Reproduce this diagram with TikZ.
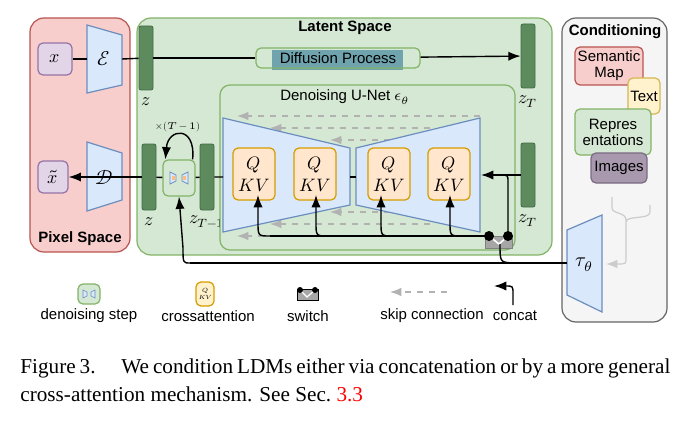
\documentclass[tikz,border=0pt]{standalone}
\usepackage{fontspec}
\setmainfont{Liberation Sans}
\newfontfamily\capfont{Liberation Serif}
\usepackage{unicode-math}
\setmathfont{Latin Modern Math}
\usetikzlibrary{arrows.meta,calc,positioning}
\definecolor{redfill}{HTML}{F8CECC}\definecolor{redline}{HTML}{B85450}
\definecolor{grnfill}{HTML}{D5E8D4}\definecolor{grnline}{HTML}{82B366}
\definecolor{bluefill}{HTML}{DAE8FC}\definecolor{blueline}{HTML}{6C8EBF}
\definecolor{orfill}{HTML}{FFE6CC}\definecolor{orline}{HTML}{D79B00}
\definecolor{purfill}{HTML}{E1D5E7}\definecolor{purline}{HTML}{9673A6}
\definecolor{yelfill}{HTML}{FFF2CC}\definecolor{yelline}{HTML}{D6B656}
\definecolor{barfill}{HTML}{5E8B5E}\definecolor{barline}{HTML}{3F6B45}
\definecolor{imgfill}{HTML}{A899AE}\definecolor{imgline}{HTML}{7A6A82}
\definecolor{gryfill}{HTML}{F5F5F5}\definecolor{gryline}{HTML}{666666}
\definecolor{teal}{HTML}{6FA3AD}
\tikzset{every picture/.style={>=Latex}}

\begin{document}
\begin{tikzpicture}[x=0.5pt,y=-0.5pt,
    font=\fontsize{7.5}{8}\selectfont,
    panel/.style={draw=#1line,fill=#1fill,rounded corners=7pt,line width=0.6pt},
    box/.style={draw=#1line,fill=#1fill,rounded corners=2.5pt,line width=0.6pt,
      inner sep=0pt,align=center},
    bar/.style={draw=barline,fill=barfill,rounded corners=1pt,minimum width=7pt,
      minimum height=#1,inner sep=0pt},
    trap/.style={draw=blueline,fill=bluefill,line width=0.6pt},
    skip/.style={->,gray!60,dashed,line width=0.6pt},
    conn/.style={line width=0.7pt},
    mlab/.style={font=\fontsize{9}{9}\selectfont}]
  \useasboundingbox (0,0) rectangle (700,433);

  % Panels.
  \draw[panel=red] (30,18) rectangle (130,252);
  \draw[panel=grn] (137,18) rectangle (552,255);
  \draw[panel=gry] (562,18) rectangle (667,322);
  \node[font=\bfseries\fontsize{7.5}{8}\selectfont] at (80,239) {Pixel Space};
  \node[font=\bfseries\fontsize{7.5}{8}\selectfont] at (345,28) {Latent Space};
  \node[font=\bfseries\fontsize{7.5}{8}\selectfont] at (615,32) {Conditioning};

  % Pixel space.
  \node[box=pur,mlab,minimum width=17pt,minimum height=16pt] (x) at (55,59) {$x$};
  \node[box=pur,mlab,minimum width=15pt,minimum height=16pt] (xt) at (53,177) {$\tilde{x}$};
  \draw[trap] (87,25) -- (122,35) -- (122,85) -- (87,93) -- cycle;
  \node (enc) at (104,59) {\fontsize{10}{10}\selectfont$\mathcal{E}$};
  \draw[trap] (87,142) -- (122,153) -- (122,200) -- (87,211) -- cycle;
  \node (dec) at (104,177) {\fontsize{10}{10}\selectfont$\mathcal{D}$};

  % Latents.
  \node[bar=32pt] (z) at (146,58) {};
  \node[mlab,below=0pt of z] {$z$};
  \node[bar=32pt] (zT) at (528,56) {};
  \node[mlab,below=0pt of zT] {$z_T$};
  \node[bar=33pt] (z2) at (149,177) {};
  \node[mlab,below=0pt of z2] {$z$};
  \node[bar=33pt] (zT1) at (207,177) {};
  \node[mlab,below=-1pt of zT1] {$z_{T-1}$};
  \node[bar=32pt] (zT2) at (528,175) {};
  \node[mlab,below=0pt of zT2] {$z_T$};

  % Diffusion process.
  \fill[teal] (272,50) rectangle (403,70);
  \node[box=grn,fill=none,minimum width=82pt,minimum height=10pt] (diff) at (338,58)
    {Diffusion Process};
  \draw[conn] (x) -- (87,59);
  \draw[conn] (122,59) -- (z);
  \draw[conn] (z) -- (diff);
  \draw[conn,->] (diff) -- (zT);

  % Denoising U-Net.
  \draw[panel=grn,rounded corners=5pt] (220,85) rectangle (515,250);
  \node at (345,97) {Denoising U-Net $\epsilon_\theta$};
  \foreach \y/\a/\b in {116/480/237,128/430/270,140/390/330,212/390/330,224/430/270,236/480/237}
    \draw[skip] (\a,\y) -- (\b,\y);
  \draw[trap] (223,118) -- (350,148) -- (350,205) -- (223,232) -- cycle;
  \draw[trap] (356,148) -- (480,118) -- (480,232) -- (356,205) -- cycle;
  \draw[conn] (350,177) -- (356,177);
  \foreach \n/\cx in {q1/254,q2/315,q3/389,q4/449}
    \node[box=or,font=\fontsize{9}{11}\selectfont,minimum width=21pt,minimum height=26pt]
      (\n) at (\cx,174) {$Q$\\$K V$};

  % Denoising step.
  \node[box=grn,minimum width=16pt,minimum height=18pt] (step) at (179,178) {};
  \fill[bluefill,draw=blueline] (170,172) -- (176,175) -- (176,181) -- (170,184) -- cycle;
  \fill[bluefill,draw=blueline] (188,172) -- (182,175) -- (182,181) -- (188,184) -- cycle;
  \fill[orfill!60!orange] (172,176) rectangle (175,180);
  \fill[orfill!60!orange] (183,176) rectangle (186,180);
  \draw[conn] (122,177) -- (z2);
  \draw[conn,->] (z2) -- (xt);
  \draw[conn] (z2) -- (step) -- (zT1) -- (223,177);
  \draw[conn,->] (step.north east) ++(-3,0) coordinate (lp)
    .. controls (196,125) and (168,128) .. ($(step.north west)+(3,0)$);
  \node[font=\fontsize{5}{5}\selectfont] at (178,127) {$\times(T-1)$};

  % Conditioning.
  \node[box=red,minimum width=34pt,minimum height=19pt] (sem) at (609,66)
    {Semantic\\Map};
  \node[box=yel,minimum width=16pt,minimum height=18pt] (txt) at (644,96) {Text};
  \node[box=grn,minimum width=38pt,minimum height=23pt] (rep) at (613,132)
    {Repres\\entations};
  \node[box=img,minimum width=28pt,minimum height=15pt] (img) at (619,168) {Images};
  \draw[trap] (567,230) -- (602,215) -- (602,312) -- (567,295) -- cycle;
  \node (tau) at (584,265) {\fontsize{10}{10}\selectfont$\tau_\theta$};
  \draw[gray!40,line width=0.6pt] (612,197) -- (612,208) .. controls (612,214) and (626,212) .. (626,220)
    (650,205) -- (650,212) .. controls (650,220) and (626,215) .. (626,222)
    (626,220) -- (626,258);
  \draw[gray!40,->,line width=0.6pt] (626,258) .. controls (626,264) .. (606,264);

  % Switch and conditioning paths.
  \draw[fill=gray!70,draw=gray] (485,236) rectangle (512,248);
  \coordinate (s1) at (489,236);
  \coordinate (s2) at (508,236);
  \draw[white,line width=0.8pt] (s1) -- (499,244) -- (s2);
  \draw[conn] (567,263) -- (190,263);
  \draw[conn,->] (190,263) .. controls (183,263) .. (183,248) -- (step.south);
  \draw[conn] (500,244) .. controls (500,262) .. (512,263);
  \draw[conn,->] (zT2) -- (481,175);
  \draw[conn] (s2) -- (508,182) .. controls (508,175) .. (500,175);
  \draw[conn] (s1) -- (270,236);
  \foreach \n/\cx in {q1/258,q2/316,q3/381,q4/450}
    \draw[conn,->] (\cx+12,236) .. controls (\cx,236) .. (\cx,222) -- (\cx,195);
  \fill (s1) circle (2.5pt) (s2) circle (2.5pt);

  % Legend.
  \node[box=grn,minimum width=11pt,minimum height=10pt] (lstep) at (89,294) {};
  \fill[bluefill,draw=blueline,line width=0.3pt] (83,290) -- (87,292) -- (87,296) -- (83,298) -- cycle;
  \fill[bluefill,draw=blueline,line width=0.3pt] (95,290) -- (91,292) -- (91,296) -- (95,298) -- cycle;
  \node (lstept) at (89,316) {denoising step};
  \node[box=or,fill=yelfill,minimum width=9pt,minimum height=12pt,font=\fontsize{3}{3.5}\selectfont]
    (lca) at (205,294) {$Q$\\$KV$};
  \node (lcat) at (208,316) {crossattention};
  \draw[fill=gray!70,draw=black] (297,289) rectangle (318,300);
  \draw[white,line width=0.6pt] (300,290) -- (307,297) -- (315,290);
  \fill (300,290) circle (1.5pt) (315,290) circle (1.5pt);
  \node (lsw) at (308,316) {switch};
  \coordinate (ls1) at (447,292);
  \coordinate (ls2) at (390,292);
  \draw[skip] (ls1) -- (ls2);
  \node (lskt) at (432,316) {skip connection};
  \coordinate (lc1) at (513,305);
  \coordinate (lc2) at (494,286);
  \draw[conn,->] (lc1) -- (513,294) .. controls (513,286) .. (lc2);
  \node (lct) at (515,316) {concat};

  % Caption.
  \node[font=\capfont\fontsize{10.6}{14}\selectfont,text width=325pt,align=justify,
    anchor=north west,inner sep=0pt] (cap) at (20,358)
    {Figure 3.\hspace{0.9em} We condition LDMs either via concatenation or by a
     more general cross-attention mechanism. See Sec.~\textcolor{red}{3.3}};
\end{tikzpicture}
\end{document}
